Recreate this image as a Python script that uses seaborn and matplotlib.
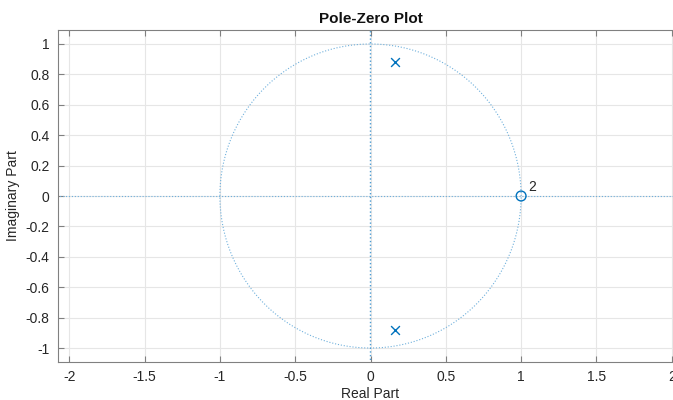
import numpy as np
import pandas as pd
import matplotlib
matplotlib.use("Agg")
import matplotlib.pyplot as plt
import seaborn as sns

pole_re = [0.16, 0.16]
pole_im = [0.88, -0.88]
zero_re = [1.0]
zero_im = [0.0]
zero_mult = ["2"]
xticks = [-2, -1.5, -1, -0.5, 0, 0.5, 1, 1.5, 2]
yticks = [1, 0.8, 0.6, 0.4, 0.2, 0, -0.2, -0.4, -0.6, -0.8, -1]

blue = "#0072BD"
light_blue = "#6fb0dc"

sns.set_theme(style="whitegrid")
plt.rcParams["font.family"] = ["Liberation Sans", "DejaVu Sans"]

fig = plt.figure(figsize=(6.73, 4.0), dpi=100)
ax = fig.add_axes([58 / 673, 38 / 400, 625 / 673, 332 / 400])
ax.set_axisbelow(True)

theta = np.linspace(0, 2 * np.pi, 400)
circle = pd.DataFrame({"re": np.cos(theta), "im": np.sin(theta)})
sns.lineplot(data=circle, x="re", y="im", sort=False, estimator=None, ax=ax,
             color=light_blue, lw=0.8, linestyle=":")
ax.plot([0, 0], [-1.2, 1.2], color="#4a9bd3", lw=1.0, linestyle=":", zorder=2,
        snap=False)
ax.plot([-2.2, 2.2], [0, 0], color=light_blue, lw=0.8, linestyle=":", zorder=2)

poles = pd.DataFrame({"re": pole_re, "im": pole_im})
zeros = pd.DataFrame({"re": zero_re, "im": zero_im})
sns.scatterplot(data=poles, x="re", y="im", marker="x", s=40, color=blue,
                linewidth=1.0, ax=ax, zorder=3)
sns.scatterplot(data=zeros, x="re", y="im", marker="o", s=50, facecolor="none",
                edgecolor=blue, linewidth=1.0, ax=ax, zorder=3)
for r, i, m in zip(zero_re, zero_im, zero_mult):
    ax.text(r + 0.05, i + 0.03, m, fontsize=10, color="#262626")

ax.set_xlim(-2.075, 2.075)
ax.set_ylim(-1.092, 1.092)
ax.set_xticks(xticks)
ax.set_yticks(yticks)
ax.set_xticklabels([f"{t:g}" for t in xticks])
ax.set_yticklabels([f"{t:g}" for t in yticks])
ax.grid(True, color="#e6e6e6", lw=0.8)
ax.set_facecolor("white")
for s in ax.spines.values():
    s.set_color("#808080")
    s.set_linewidth(0.8)
ax.tick_params(direction="in", length=4, width=0.8, color="#808080",
               labelsize=10, labelcolor="#262626", top=True, right=True,
               bottom=True, left=True, pad=6)
ax.set_xlabel("Real Part", fontsize=10, color="#262626", labelpad=2)
ax.set_ylabel("Imaginary Part", fontsize=10, color="#262626", labelpad=4)
ax.set_title("Pole-Zero Plot", fontsize=11, fontweight="bold", color="#111111", pad=5)

fig.savefig("out.png", dpi=100)
